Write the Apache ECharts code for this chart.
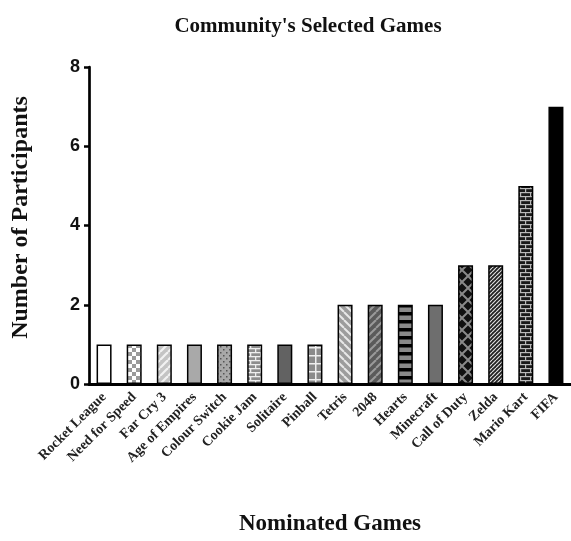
<!DOCTYPE html>
<html>
<head>
<meta charset="utf-8">
<script src="https://cdn.jsdelivr.net/npm/echarts@6/dist/echarts.min.js"></script>
<style>html,body{margin:0;padding:0;background:#fff;}#c{width:571px;height:541px;}</style>
</head>
<body>
<div id="c"></div>
<script>
const titleText = "Community's Selected Games";
const yAxisName = "Number of Participants";
const xAxisName = "Nominated Games";
const categories = ["Rocket League","Need for Speed","Far Cry 3","Age of Empires","Colour Switch","Cookie Jam","Solitaire","Pinball","Tetris","2048","Hearts","Minecraft","Call of Duty","Zelda","Mario Kart","FIFA"];
const participants = [1,1,1,1,1,1,1,1,2,2,2,2,3,3,5,7];
const yTicks = [0,2,4,6,8];

function tile(w,h,fn){const c=document.createElement('canvas');c.width=w;c.height=h;const g=c.getContext('2d');fn(g,w,h);return {image:c,repeat:'repeat'};}
function fill(g,w,h,col){g.fillStyle=col;g.fillRect(0,0,w,h);}
function diag(g,w,h,bg,fg,lw,dir){fill(g,w,h,bg);g.strokeStyle=fg;g.lineWidth=lw;for(let k=-2;k<=2;k++){g.beginPath();if(dir>0){g.moveTo(k*w,h);g.lineTo(k*w+w,0);}else{g.moveTo(k*w,0);g.lineTo(k*w+w,h);}g.stroke();}}
const fills = [
  '#ffffff',
  tile(8,8,(g,w,h)=>{fill(g,w,h,'#ffffff');g.fillStyle='#9a9a9a';g.fillRect(0,0,4,4);g.fillRect(4,4,4,4);}),
  tile(8,8,(g,w,h)=>diag(g,w,h,'#c4c4c4','#f2f2f2',2.2,1)),
  '#a9a9a9',
  tile(6,6,(g,w,h)=>{fill(g,w,h,'#a8a8a8');g.fillStyle='#555';g.fillRect(1,1,1.5,1.5);g.fillRect(4,4,1.5,1.5);}),
  tile(10,8,(g,w,h)=>{fill(g,w,h,'#8c8c8c');g.fillStyle='#eeeeee';g.fillRect(0,0,10,1.3);g.fillRect(0,4,10,1.3);g.fillRect(0,0,1.3,4);g.fillRect(5,4,1.3,4);}),
  '#626262',
  tile(8,8,(g,w,h)=>{fill(g,w,h,'#8a8a8a');g.fillStyle='#eeeeee';g.fillRect(0,3,8,1.5);g.fillRect(3,0,1.5,8);}),
  tile(8,8,(g,w,h)=>diag(g,w,h,'#9c9c9c','#e8e8e8',2,-1)),
  tile(8,8,(g,w,h)=>diag(g,w,h,'#5a5a5a','#9a9a9a',2,1)),
  tile(8,8,(g,w,h)=>{fill(g,w,h,'#8a8a8a');g.fillStyle='#000';g.fillRect(0,0,8,3.5);}),
  '#6e6e6e',
  tile(12,12,(g,w,h)=>{fill(g,w,h,'#111');g.strokeStyle='#8a8a8a';g.lineWidth=2;g.beginPath();g.moveTo(0,0);g.lineTo(12,12);g.moveTo(12,0);g.lineTo(0,12);g.stroke();}),
  tile(4,4,(g,w,h)=>diag(g,w,h,'#222','#dddddd',1.2,1)),
  tile(10,8,(g,w,h)=>{fill(g,w,h,'#1a1a1a');g.fillStyle='#bbbbbb';g.fillRect(0,0,10,1.2);g.fillRect(0,4,10,1.2);g.fillRect(0,0,1.2,4);g.fillRect(5,4,1.2,4);}),
  '#000000'
];

const chart = echarts.init(document.getElementById('c'));
chart.setOption({
  animation:false,
  backgroundColor:'#fff',
  title:{text:titleText,left:303,textAlign:'center',top:11,textStyle:{fontFamily:'Liberation Serif',fontWeight:'bold',fontSize:21,color:'#111'}},
  grid:{left:89,right:0,top:67,bottom:152,containLabel:false},
  xAxis:{type:'category',data:categories,name:xAxisName,nameLocation:'middle',nameGap:129,
    nameTextStyle:{fontFamily:'Liberation Serif',fontWeight:'bold',fontSize:23,color:'#111'},
    axisLine:{lineStyle:{color:'#000',width:3}},
    axisTick:{alignWithLabel:true,length:6,lineStyle:{color:'#000',width:2.5}},
    axisLabel:{rotate:45,interval:0,margin:11,fontFamily:'Liberation Serif',fontWeight:'bold',fontSize:14,color:'#222'}},
  yAxis:{type:'value',min:yTicks[0],max:yTicks[yTicks.length-1],interval:2,name:yAxisName,nameLocation:'middle',nameGap:56,
    nameTextStyle:{fontFamily:'Liberation Serif',fontWeight:'bold',fontSize:24,color:'#111',padding:[0,0,0,16]},
    axisLine:{show:true,lineStyle:{color:'#000',width:2.7}},
    axisTick:{show:true,length:5,lineStyle:{color:'#000',width:2.5}},
    splitLine:{show:false},
    axisLabel:{margin:9,fontFamily:'Liberation Sans',fontWeight:'bold',fontSize:18,color:'#111'}},
  series:[{type:'bar',barWidth:15,
    data:participants.map((v,i)=>({value:v,itemStyle:{color:fills[i]}})),
    itemStyle:{borderColor:'#000',borderWidth:1.5}}]
});
</script>
</body>
</html>
